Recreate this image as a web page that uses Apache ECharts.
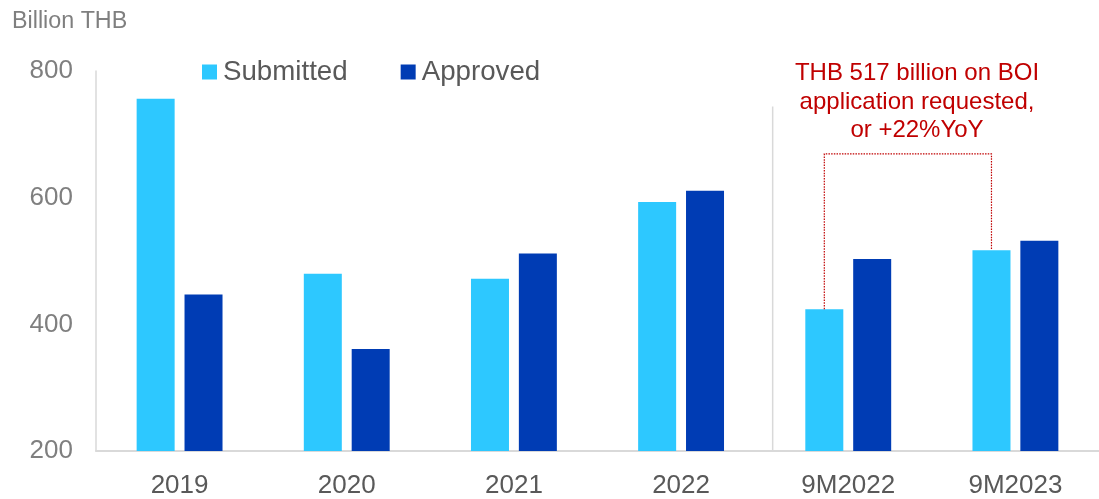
<!DOCTYPE html>
<html>
<head>
<meta charset="utf-8">
<script src="https://cdn.jsdelivr.net/npm/echarts@6/dist/echarts.min.js"></script>
<style>
  html, body { margin: 0; padding: 0; background: #ffffff; }
  #chart { width: 1099px; height: 499px; }
</style>
</head>
<body>
<div id="chart"></div>
<script>
// BOI investment applications, billion THB
const categories = ['2019', '2020', '2021', '2022', '9M2022', '9M2023'];
const submitted = [756, 480, 472, 593, 424, 517];
const approved = [447, 361, 512, 611, 503, 532];
const yMin = 200;
const yMax = 800;
const yStep = 200;

const FONT = '"Liberation Sans", Arial, sans-serif';
const RED = '#C00000';
const BAR_W = 38;
const GAP_RATIO = 0.26;

// year-on-year change between the two nine-month periods
const yoy = Math.round((submitted[5] / submitted[4] - 1) * 100);
const noteText = 'THB ' + submitted[5] + ' billion on BOI\napplication requested,\nor +' + yoy + '%YoY';

const chart = echarts.init(document.getElementById('chart'), null, { renderer: 'canvas' });

// offset from the category centre to the centre of the first (Submitted) bar
const firstBarOffset = -(BAR_W + BAR_W * GAP_RATIO) / 2;

function renderOverlay(params, api) {
  const band = api.size([1, 0])[0];
  // divider between full years and nine-month periods
  const divX = api.coord([3, yMin])[0] + band / 2 + 8;
  const divTop = api.coord([3, 744])[1];
  const divBottom = api.coord([3, yMin])[1];
  // dotted bracket linking the two nine-month Submitted bars
  const a = api.coord([4, submitted[4]]);
  const b = api.coord([5, submitted[5]]);
  const topY = api.coord([4, 669])[1];
  const ax = a[0] + firstBarOffset;
  const bx = b[0] + firstBarOffset;
  return {
    type: 'group',
    children: [
      {
        type: 'line',
        shape: { x1: divX, y1: divTop, x2: divX, y2: divBottom },
        style: { stroke: '#D9D9D9', lineWidth: 1.5 }
      },
      {
        type: 'polyline',
        shape: { points: [[ax, a[1]], [ax, topY], [bx, topY], [bx, b[1]]] },
        style: { stroke: RED, lineWidth: 1.2, lineDash: [1.5, 1.2], fill: null }
      }
    ]
  };
}

chart.setOption({
  animation: false,
  textStyle: { fontFamily: FONT },
  title: {
    text: 'Billion THB',
    left: 12,
    top: 10,
    padding: 0,
    textStyle: { fontFamily: FONT, fontSize: 23.3, fontWeight: 'normal', color: '#7F7F7F' }
  },
  legend: {
    data: ['Submitted', 'Approved'],
    left: 202,
    top: 57,
    padding: 0,
    itemWidth: 15,
    itemHeight: 15,
    itemGap: 53,
    icon: 'rect',
    textStyle: { fontFamily: FONT, fontSize: 27.7, color: '#595959', padding: [0, 0, 0, 1], lineHeight: 30 }
  },
  grid: { left: 96, top: 71, width: 1005, height: 385, containLabel: false },
  xAxis: {
    type: 'category',
    data: categories,
    axisLine: { show: true, lineStyle: { color: '#D9D9D9', width: 2 } },
    axisTick: { show: false },
    axisLabel: { fontFamily: FONT, fontSize: 26, color: '#595959', margin: 22, lineHeight: 26 },
    splitLine: { show: false }
  },
  yAxis: {
    type: 'value',
    min: yMin,
    max: yMax,
    interval: yStep,
    axisLine: { show: true, lineStyle: { color: '#D9D9D9', width: 1.5 } },
    axisTick: { show: false },
    splitLine: { show: false },
    axisLabel: { fontFamily: FONT, fontSize: 26, color: '#7F7F7F', margin: 23 }
  },
  series: [
    {
      name: 'Submitted',
      type: 'bar',
      data: submitted,
      barWidth: BAR_W,
      barGap: (GAP_RATIO * 100) + '%',
      itemStyle: { color: '#2DC8FF' }
    },
    {
      name: 'Approved',
      type: 'bar',
      data: approved,
      barWidth: BAR_W,
      barGap: (GAP_RATIO * 100) + '%',
      itemStyle: { color: '#003CB4' }
    },
    {
      name: 'overlay',
      type: 'custom',
      data: [[0, yMin]],
      renderItem: renderOverlay,
      silent: true,
      clip: false,
      z: 5
    }
  ],
  graphic: [
    {
      type: 'text',
      x: 917,
      y: 59,
      silent: true,
      style: {
        text: noteText,
        fill: RED,
        font: '24px ' + FONT,
        lineHeight: 28.7,
        align: 'center',
        verticalAlign: 'top'
      }
    }
  ]
});
</script>
</body>
</html>
